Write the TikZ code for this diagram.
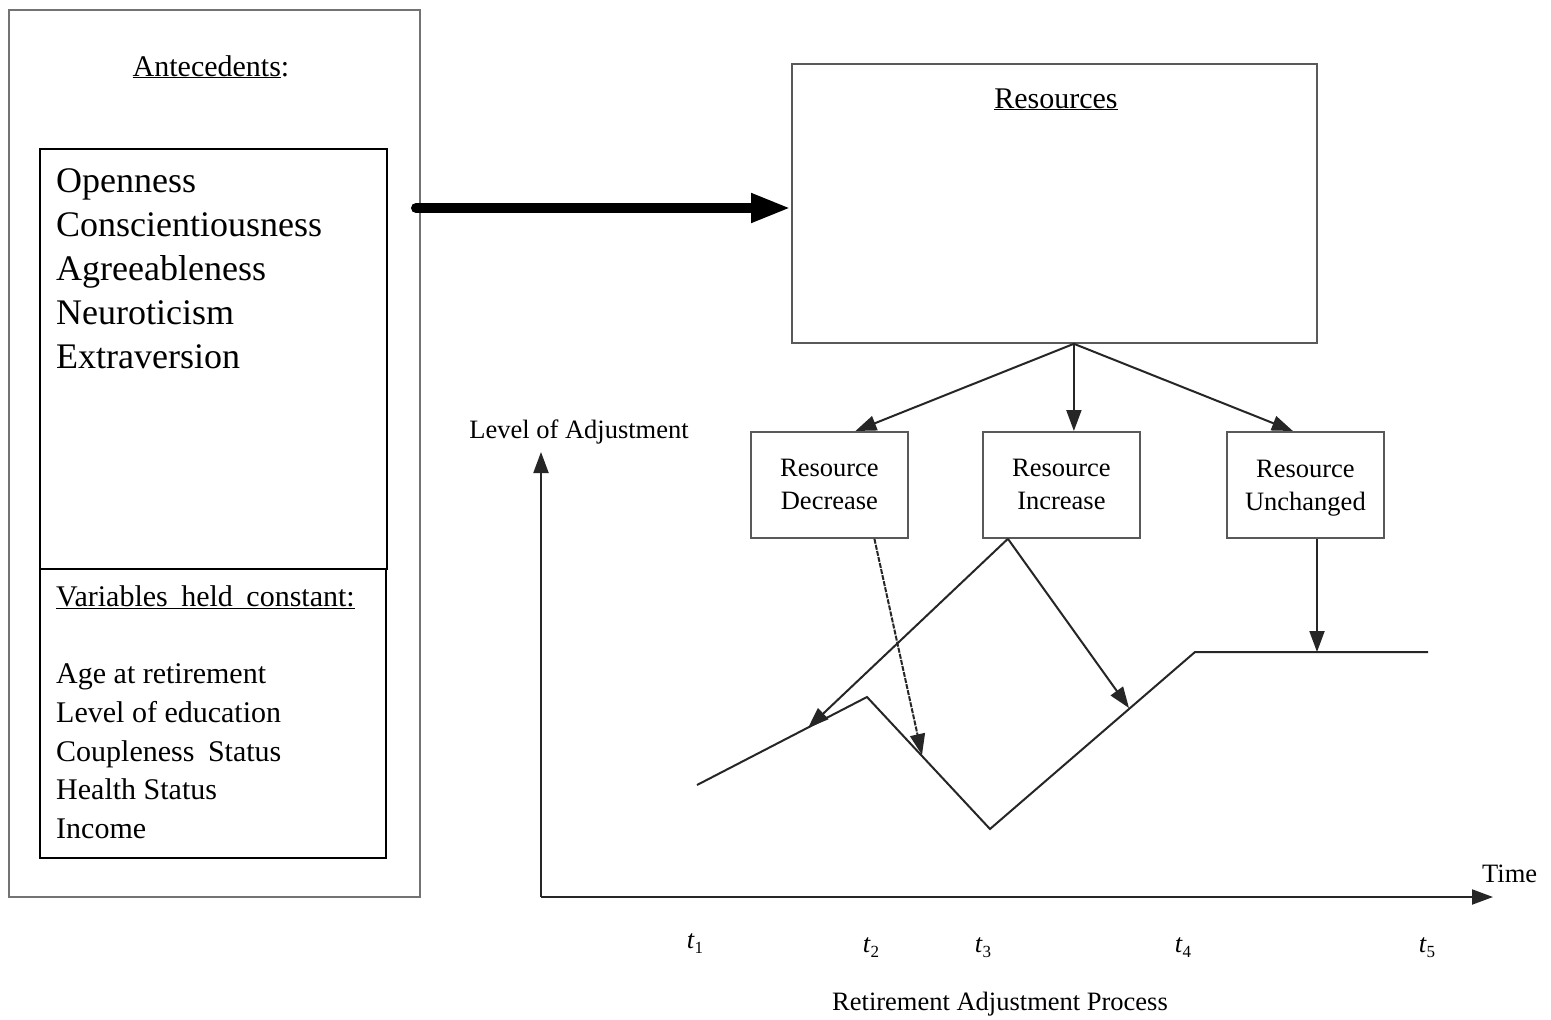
\documentclass[tikz,border=0pt]{standalone}
\usepackage{fontspec}
\setmainfont{Liberation Serif}
\usetikzlibrary{arrows.meta,calc}
\newcommand\fsz[2]{\fontsize{#1}{#2}\selectfont}
\newcommand\tlab[1]{\textit{t}\raisebox{-5pt}{\fsz{17}{17}#1}}
\begin{document}
\begin{tikzpicture}[x=1pt,y=-1pt,
  box/.style={draw, line width=1.8pt, inner sep=0pt, anchor=north west},
  gbox/.style={box, draw=black!65},
  smallbox/.style={gbox, minimum width=157pt, minimum height=106pt, align=center, font=\fsz{26.5}{33}},
  arr/.style={-{Triangle[length=21pt,width=15pt]}, line width=2pt, draw=black!85},
  lst/.style={anchor=base west, inner sep=0pt},
  big/.style={font=\fsz{36}{44}},
  med/.style={font=\fsz{30}{38}},
  lab/.style={font=\fsz{26.5}{30}, inner sep=0pt}
]
\useasboundingbox (0,0) rectangle (1551,1020);
\fill[white] (0,0) rectangle (1551,1020);

% left column
\node[box, draw=black!55, line width=2pt, minimum width=411pt, minimum height=887pt] (outer) at (8,9) {};
\node[anchor=base, inner sep=0pt, med] (ante) at (211,76) {\underline{Antecedents}:};
\node[box, minimum width=347pt, minimum height=420pt] (traits) at (39,148) {};
\node[box, minimum width=346pt, minimum height=289pt] (consts) at (39,568) {};

\node[lst, big] (o) at (56,192) {Openness};
\node[lst, big] (c) at (56,236) {Conscientiousness};
\node[lst, big] (a) at (56,280) {Agreeableness};
\node[lst, big] (n) at (56,324) {Neuroticism};
\node[lst, big] (e) at (56,368) {Extraversion};

\node[lst, med] (vhc) at (56,606) {\underline{Variables\hspace{0.45em}held\hspace{0.45em}constant:}};
\node[lst, med] (v1) at (56,683) {Age at retirement};
\node[lst, med] (v2) at (56,722) {Level of education};
\node[lst, med] (v3) at (56,761) {Coupleness\hspace{0.45em}Status};
\node[lst, med] (v4) at (56,799) {Health Status};
\node[lst, med] (v5) at (56,838) {Income};

% resources
\node[gbox, minimum width=525pt, minimum height=279pt] (res) at (791,63) {};
\node[anchor=base, inner sep=0pt, med] (restitle) at (1056,108) {\underline{Resources}};

\coordinate (ta) at (416,208);
\draw[line width=10pt, line cap=round, -{Triangle[length=40pt,width=27pt]}] (ta) -- (ta -| res.west);

\node[smallbox] (dec) at (750,431) {Resource\\Decrease};
\node[smallbox] (inc) at (982,431) {Resource\\Increase};
\node[smallbox] (unc) at (1226,431) {Resource\\\smash{Unchanged}};

\coordinate (rs) at ([xshift=19.5pt]res.south);
\draw[arr] (rs) -- ([xshift=26pt]dec.north);
\draw[arr] (rs) -- (rs |- inc.north);
\draw[arr] (rs) -- ([xshift=-12.5pt]unc.north);

% axes
\coordinate (origin) at (541,897);
\coordinate (ytop) at (541,452);
\coordinate (xend) at (1493,897);
\draw[arr] (origin) -- (ytop);
\draw[arr] (origin) -- (xend);
\node[lab, anchor=base] (loa) at (579,438) {Level of Adjustment};
\node[lab, anchor=base west] (time) at (1482,882) {Time};
\node[lab, anchor=base] (rap) at (1000,1010) {Retirement Adjustment Process};

\node[lab, anchor=base] (t1) at (695,948) {\tlab{1}};
\node[lab, anchor=base] (t2) at (871,952) {\tlab{2}};
\node[lab, anchor=base] (t3) at (983,952) {\tlab{3}};
\node[lab, anchor=base] (t4) at (1183,952) {\tlab{4}};
\node[lab, anchor=base] (t5) at (1427,952) {\tlab{5}};

% adjustment trajectory
\coordinate (p1) at (697,785);
\coordinate (p2) at (867,697);
\coordinate (p3) at (990,829);
\coordinate (p4) at (1195,652);
\coordinate (p5) at (1428,652);
\draw[line width=2pt, draw=black!85] (p1) -- (p2) -- (p3) -- (p4) -- (p5);

\coordinate (a1) at (808,728);
\coordinate (a2) at (922,755);
\coordinate (a3) at (1129,708);
\coordinate (a4) at (1317,652);

\draw[arr, dash pattern=on 5pt off 1.2pt] ([xshift=45pt]dec.south) -- (a2);
\draw[arr] ([xshift=-53.5pt]inc.south) -- (a1);
\draw[arr] ([xshift=-53.5pt]inc.south) -- (a3);
\draw[arr] (a4 |- unc.south) -- (a4);
\end{tikzpicture}
\end{document}
